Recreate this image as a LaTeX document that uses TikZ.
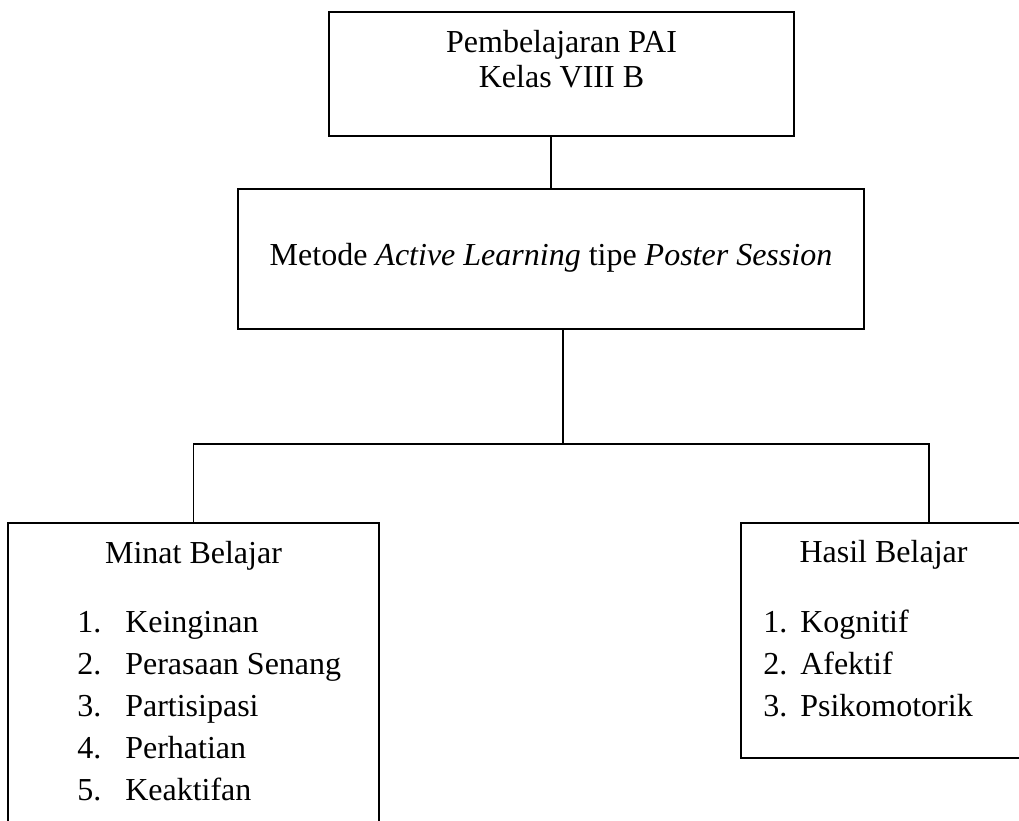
\documentclass[tikz,border=0pt]{standalone}
\usepackage{fontspec}
\setmainfont{Liberation Serif}
\begin{document}
\begin{tikzpicture}[x=0.75pt,y=-0.75pt,
  box/.style={draw=black,line width=1.4pt,rectangle,inner sep=0pt},
  conn/.style={draw=black,line width=1.4pt},
  txt/.style={inner sep=0pt,font=\fontsize{24}{28}\selectfont}]
\useasboundingbox (0,0) rectangle (1019,820);
\clip (0,0) rectangle (1019,820);
\fill[white] (0,0) rectangle (1019,820);
% boxes
\node[box,minimum width=348.75pt,minimum height=93pt] (top) at (561.5,74) {};
\node[box,minimum width=469.5pt,minimum height=105pt] (mid) at (551,259) {};
\node[box,minimum width=278.25pt,minimum height=230.25pt] (left) at (193.5,676.5) {};
\node[box,minimum width=282pt,minimum height=176.25pt] (right) at (929,640.5) {};
% texts
\node[txt,anchor=base] (t1) at (561.5,53) {Pembelajaran PAI};
\node[txt,anchor=base] (t2) at (561.5,88) {Kelas VIII B};
\node[txt,anchor=base] (m1) at (551,265) {Metode \textit{Active Learning} tipe \textit{Poster Session}};
\node[txt,anchor=base] (lh) at (193.5,563) {Minat Belajar};
\node[txt,anchor=base west] (ln1) at (77,632) {1.};
\node[txt,anchor=base west] (lt1) at (125,632) {Keinginan};
\node[txt,anchor=base west] (ln2) at (77,674) {2.};
\node[txt,anchor=base west] (lt2) at (125,674) {Perasaan Senang};
\node[txt,anchor=base west] (ln3) at (77,716) {3.};
\node[txt,anchor=base west] (lt3) at (125,716) {Partisipasi};
\node[txt,anchor=base west] (ln4) at (77,758) {4.};
\node[txt,anchor=base west] (lt4) at (125,758) {Perhatian};
\node[txt,anchor=base west] (ln5) at (77,800) {5.};
\node[txt,anchor=base west] (lt5) at (125,800) {Keaktifan};
\node[txt,anchor=base] (rh) at (883.5,562) {Hasil Belajar};
\node[txt,anchor=base west] (rn1) at (763,632) {1.};
\node[txt,anchor=base west] (rt1) at (800,632) {Kognitif};
\node[txt,anchor=base west] (rn2) at (763,674) {2.};
\node[txt,anchor=base west] (rt2) at (800,674) {Afektif};
\node[txt,anchor=base west] (rn3) at (763,716) {3.};
\node[txt,anchor=base west] (rt3) at (800,716) {Psikomotorik};
% connectors
\coordinate (j) at (563,444);
\draw[conn] (mid.north |- top.south) -- (mid.north);
\draw[conn] (mid.south -| j) -- (j);
\draw[conn] (left.north) |- (j) -| (right.north);
\end{tikzpicture}
\end{document}
